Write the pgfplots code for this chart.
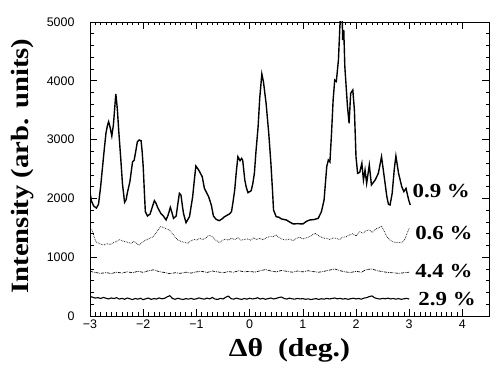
\documentclass[border=0pt]{standalone}
\usepackage{fontspec}
\setmainfont{Liberation Serif}
\newfontfamily\sansf{Liberation Sans}
\newfontfamily\wideserif[FakeStretch=1.15]{Liberation Serif}
\usepackage{pgfplots}
\pgfplotsset{compat=1.18}
\begin{document}
\begin{tikzpicture}
\begin{axis}[
 scale only axis, width=399bp, height=294bp,
 xmin=-3, xmax=4.5, ymin=0, ymax=5000,
 xtick={-3,-2,-1,0,1,2,3,4}, xticklabels={−3,−2,−1,0,1,2,3,4},
 minor x tick num=9,
 ytick={0,1000,2000,3000,4000,5000}, minor y tick num=4,
 tick align=inside, major tick length=7bp, minor tick length=3.5bp,
 tick style={black, line width=0.6pt},
 axis line style={line width=0.8pt},
 /pgf/number format/assume math mode=true,
 /pgf/number format/1000 sep={},
 tick label style={font=\sansf\fontsize{12.5}{14}\selectfont},
 yticklabel style={xshift=-12bp},
 xlabel={Δθ\ \ (deg.)},
 ylabel={Intensity (arb. units)},
 xlabel style={font=\wideserif\bfseries\fontsize{26}{28}\selectfont, at={(axis description cs:0.5,-0.116)}, anchor=center},
 ylabel style={font=\wideserif\bfseries\fontsize{25}{27}\selectfont, at={(axis description cs:-0.168,0.51)}, anchor=center},
]
% 0.9 %
\addplot[black, line width=1.4pt, mark=none] coordinates {
(-3.00,2097) (-2.97,1950) (-2.93,1870) (-2.88,1836) (-2.84,1900) (-2.80,2200)
(-2.77,2483) (-2.73,2850) (-2.70,3110) (-2.67,3250) (-2.65,3305) (-2.62,3200)
(-2.59,3061) (-2.56,3250) (-2.53,3600) (-2.515,3776) (-2.50,3650) (-2.485,3503)
(-2.46,3150) (-2.42,2653) (-2.39,2250) (-2.35,1933) (-2.32,1980) (-2.30,2086)
(-2.25,2284) (-2.20,2624) (-2.17,2650) (-2.14,2800) (-2.11,2964) (-2.075,2993)
(-2.04,2981) (-2.02,2800) (-2.00,2540) (-1.98,2150) (-1.96,1774) (-1.92,1701)
(-1.87,1735) (-1.83,1850) (-1.79,1961) (-1.76,1920) (-1.73,1848) (-1.67,1746)
(-1.62,1700) (-1.57,1633) (-1.53,1720) (-1.49,1848) (-1.46,1760) (-1.43,1661)
(-1.38,1701) (-1.35,1900) (-1.32,2086) (-1.29,2058) (-1.26,1850) (-1.24,1735)
(-1.195,1587) (-1.13,1689) (-1.07,2029) (-1.04,2300) (-1.01,2551) (-0.97,2500)
(-0.94,2454) (-0.89,2369) (-0.85,2171) (-0.81,2100) (-0.77,2029) (-0.72,1888)
(-0.68,1701) (-0.63,1644) (-0.57,1621) (-0.52,1650) (-0.47,1689) (-0.38,1735)
(-0.34,1774) (-0.31,1950) (-0.28,2143) (-0.25,2450) (-0.22,2710) (-0.18,2641)
(-0.15,2680) (-0.13,2650) (-0.09,2313) (-0.06,2180) (-0.03,2097) (0.03,2131)
(0.06,2250) (0.09,2427) (0.12,2800) (0.16,3220) (0.19,3700) (0.23,4116)
(0.26,3985) (0.31,3617) (0.36,3107) (0.40,2600) (0.43,2143) (0.45,1803)
(0.50,1689) (0.55,1680) (0.60,1650) (0.69,1633) (0.75,1600) (0.82,1565)
(0.90,1570) (1.00,1565) (1.07,1610) (1.13,1633) (1.21,1640) (1.29,1661)
(1.35,1774) (1.40,1973) (1.45,2540) (1.48,2653) (1.51,2620) (1.54,3107)
(1.57,3673) (1.60,4014) (1.63,3990) (1.67,4354) (1.70,4990) (1.72,5300)
(1.74,5100) (1.75,4694) (1.77,4864) (1.79,4240) (1.84,3560) (1.87,3277)
(1.90,3787) (1.94,3844) (1.97,3503) (2.00,2709) (2.03,2427) (2.07,2443)
(2.11,2597) (2.14,2313) (2.17,2483) (2.20,2256) (2.25,2568) (2.29,2228)
(2.36,2313) (2.42,2427) (2.48,2709) (2.53,2369) (2.58,2029) (2.61,1900)
(2.64,1888) (2.68,2086) (2.72,2500) (2.75,2721) (2.80,2427) (2.86,2199)
(2.90,2115) (2.94,2171) (2.99,1973) (3.02,1888)
};
% 0.6 %
\addplot[black, line width=0.7pt, densely dotted, mark=none] coordinates {
(-3.0,1480) (-2.96,1463) (-2.92,1340) (-2.89,1264) (-2.84,1240) (-2.80,1220)
(-2.74,1207) (-2.68,1230) (-2.62,1215) (-2.56,1250) (-2.50,1270) (-2.45,1300)
(-2.40,1280) (-2.34,1265) (-2.28,1250) (-2.23,1236) (-2.17,1270) (-2.12,1230)
(-2.08,1207) (-2.02,1250) (-1.95,1293) (-1.88,1320) (-1.81,1350) (-1.75,1420)
(-1.70,1490) (-1.67,1519) (-1.62,1505) (-1.56,1480) (-1.51,1463) (-1.45,1400)
(-1.40,1340) (-1.35,1293) (-1.29,1270) (-1.22,1250) (-1.16,1236) (-1.10,1280)
(-1.04,1300) (-0.99,1290) (-0.94,1321) (-0.88,1300) (-0.82,1330) (-0.77,1370)
(-0.72,1361) (-0.66,1310) (-0.62,1280) (-0.57,1250) (-0.52,1280) (-0.46,1310)
(-0.40,1290) (-0.34,1321) (-0.28,1300) (-0.22,1330) (-0.16,1290) (-0.10,1300)
(-0.04,1310) (0.02,1290) (0.08,1330) (0.13,1300) (0.19,1321) (0.25,1295)
(0.31,1330) (0.38,1350) (0.44,1349) (0.50,1377) (0.56,1330) (0.63,1300)
(0.69,1293) (0.75,1310) (0.82,1280) (0.88,1321) (0.94,1340) (1.00,1310)
(1.07,1330) (1.13,1350) (1.18,1380) (1.23,1406) (1.29,1370) (1.35,1340)
(1.40,1321) (1.45,1321) (1.51,1300) (1.57,1330) (1.63,1321) (1.69,1300)
(1.75,1340) (1.82,1349) (1.88,1380) (1.94,1400) (2.00,1360) (2.07,1434)
(2.13,1410) (2.19,1450) (2.25,1463) (2.31,1420) (2.37,1480) (2.43,1500)
(2.48,1531) (2.53,1440) (2.58,1350) (2.64,1290) (2.70,1260) (2.77,1247)
(2.83,1250) (2.89,1264) (2.93,1330) (2.96,1406) (3.00,1490)
};
% 4.4 %
\addplot[black, line width=0.7pt, densely dashdotted, mark=none] coordinates {
(-3.0,760) (-2.9,740) (-2.8,725) (-2.7,738) (-2.6,722) (-2.5,745) (-2.4,730)
(-2.3,752) (-2.2,735) (-2.1,760) (-2.0,742) (-1.9,770) (-1.8,785) (-1.7,755)
(-1.6,740) (-1.5,720) (-1.4,735) (-1.3,725) (-1.2,745) (-1.1,730) (-1.0,750)
(-0.9,760) (-0.8,740) (-0.7,765) (-0.6,750) (-0.5,735) (-0.4,755) (-0.3,745)
(-0.2,770) (-0.1,750) (0.0,760) (0.1,745) (0.2,770) (0.3,790) (0.4,765)
(0.5,750) (0.6,775) (0.7,760) (0.8,745) (0.9,765) (1.0,750) (1.1,770)
(1.2,755) (1.3,745) (1.4,760) (1.5,780) (1.6,800) (1.7,770) (1.8,750)
(1.9,740) (2.0,760) (2.1,745) (2.2,790) (2.3,800) (2.4,770) (2.5,755)
(2.6,740) (2.7,735) (2.8,725) (2.9,735) (3.0,745)
};
% 2.9 %
\addplot[black, line width=1.1pt, mark=none] coordinates {
(-3.00,335) (-2.95,318) (-2.90,305) (-2.85,312) (-2.80,298) (-2.75,315)
(-2.70,302) (-2.65,290) (-2.60,308) (-2.55,296) (-2.50,312) (-2.45,288)
(-2.40,300) (-2.35,284) (-2.30,306) (-2.25,292) (-2.20,280) (-2.15,298)
(-2.10,286) (-2.05,302) (-2.00,278) (-1.95,294) (-1.90,305) (-1.85,283)
(-1.80,296) (-1.75,288) (-1.70,308) (-1.65,292) (-1.60,300) (-1.55,325)
(-1.50,345) (-1.45,298) (-1.40,284) (-1.35,302) (-1.30,290) (-1.25,280)
(-1.20,296) (-1.15,286) (-1.10,300) (-1.05,284) (-1.00,292) (-0.95,308)
(-0.90,294) (-0.85,286) (-0.80,304) (-0.75,292) (-0.70,315) (-0.65,288)
(-0.60,282) (-0.55,300) (-0.50,290) (-0.45,318) (-0.40,338) (-0.35,296)
(-0.30,286) (-0.25,304) (-0.20,292) (-0.15,282) (-0.10,298) (-0.05,286)
(0.00,302) (0.05,290) (0.10,296) (0.15,310) (0.20,288) (0.25,300)
(0.30,284) (0.35,296) (0.40,306) (0.45,290) (0.50,300) (0.55,315)
(0.60,322) (0.65,298) (0.70,288) (0.75,304) (0.80,292) (0.85,286)
(0.90,300) (0.95,290) (1.00,296) (1.05,284) (1.10,292) (1.15,280)
(1.20,288) (1.25,296) (1.30,282) (1.35,294) (1.40,286) (1.45,300)
(1.50,290) (1.55,298) (1.60,306) (1.65,292) (1.70,300) (1.75,288)
(1.80,296) (1.85,284) (1.90,294) (1.95,302) (2.00,290) (2.05,298)
(2.10,286) (2.15,304) (2.20,312) (2.25,330) (2.30,342) (2.35,310)
(2.40,296) (2.45,288) (2.50,300) (2.55,292) (2.60,304) (2.65,290)
(2.70,298) (2.75,286) (2.80,296) (2.85,284) (2.90,292) (2.95,300)
(3.00,288)
};
\node[anchor=base west, font=\wideserif\bfseries\fontsize{20}{22}\selectfont, inner sep=0pt] at (axis cs:3.06,2007) {0.9 \%};
\node[anchor=base west, font=\wideserif\bfseries\fontsize{20}{22}\selectfont, inner sep=0pt] at (axis cs:3.11,1293) {0.6 \%};
\node[anchor=base west, font=\wideserif\bfseries\fontsize{20}{22}\selectfont, inner sep=0pt] at (axis cs:3.11,663) {4.4 \%};
\node[anchor=base west, font=\wideserif\bfseries\fontsize{20}{22}\selectfont, inner sep=0pt] at (axis cs:3.17,187) {2.9 \%};
\end{axis}
\pgfresetboundingbox
\path ([shift={(-90bp,-68bp)}]current axis.south west) rectangle ([shift={(11bp,22bp)}]current axis.north east);
\end{tikzpicture}
\end{document}
